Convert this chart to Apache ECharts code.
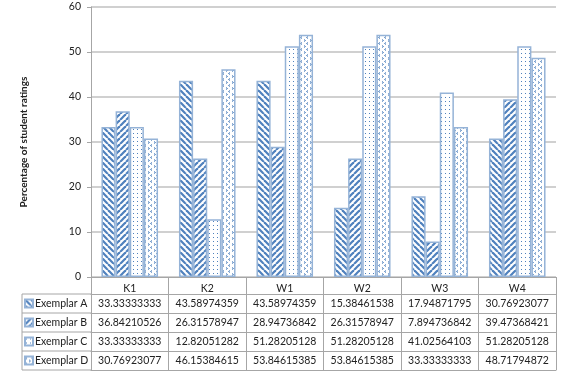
<!DOCTYPE html>
<html><head><meta charset="utf-8">
<script src="https://cdn.jsdelivr.net/npm/echarts@6/dist/echarts.min.js"></script>
<style>html,body{margin:0;padding:0;background:#fff}#c{width:561px;height:374px}</style>
</head><body><div id="c"></div>
<script>
const categories = ['K1','K2','W1','W2','W3','W4'];
const seriesNames = ['Exemplar A','Exemplar B','Exemplar C','Exemplar D'];
const exemplarA = [33.33333333, 43.58974359, 43.58974359, 15.38461538, 17.94871795, 30.76923077];
const exemplarB = [36.84210526, 26.31578947, 28.94736842, 26.31578947, 7.894736842, 39.47368421];
const exemplarC = [33.33333333, 12.82051282, 51.28205128, 51.28205128, 41.02564103, 51.28205128];
const exemplarD = [30.76923077, 46.15384615, 53.84615385, 53.84615385, 33.33333333, 48.71794872];
const yTicks = [0,10,20,30,40,50,60];

const allData = [exemplarA, exemplarB, exemplarC, exemplarD];
const BLUE = '#4f81bd';
const EDGE = '#95b3d7';
const FONT = 'Lato';

function makePattern(kind){
  const c = document.createElement('canvas');
  let w=6,h=6;
  if(kind==='C'){w=4;h=4;}
  c.width=w;c.height=h;
  const g=c.getContext('2d');
  g.fillStyle='#fff';g.fillRect(0,0,w,h);
  g.strokeStyle=BLUE;g.fillStyle=BLUE;
  if(kind==='A'){
    g.lineWidth=2.2;
    for(let o=-w;o<=w;o+=w){g.beginPath();g.moveTo(o,0);g.lineTo(o+w,h);g.stroke();}
  } else if(kind==='B'){
    g.lineWidth=2.2;
    for(let o=-w;o<=w;o+=w){g.beginPath();g.moveTo(o,h);g.lineTo(o+w,0);g.stroke();}
  } else if(kind==='C'){
    g.fillRect(1,1,1,1);
  } else {
    g.lineWidth=1;
    g.beginPath();g.moveTo(2,0.5);g.lineTo(0.5,1.5);g.lineTo(2,2.5);g.stroke();
    g.beginPath();g.moveTo(4,3.5);g.lineTo(5.5,4.5);g.lineTo(4,5.5);g.stroke();
  }
  return {image:c, repeat:'repeat'};
}
const patterns = ['A','B','C','D'].map(makePattern);

const fmt = v => String(v);
const rowAxes = allData.map((arr,i)=>({
  type:'category', data:categories, position:'bottom', offset:17+19*i,
  axisLine:{show:true,lineStyle:{color:'#a6a6a6',width:1}},
  axisTick:{show:false},
  axisLabel:{interval:0,margin:4,fontFamily:FONT,fontSize:10.5,color:'#222',formatter:(v,idx)=>fmt(arr[idx])}
}));
rowAxes.push({
  type:'category', data:categories, position:'bottom', offset:93,
  axisLine:{show:true,lineStyle:{color:'#a6a6a6',width:1}},
  axisTick:{show:false}, axisLabel:{show:false}
});

const chart = echarts.init(document.getElementById('c'),null,{renderer:'canvas'});
chart.setOption({
  animation:false,
  backgroundColor:'#fff',
  grid:{left:91,right:5,top:7,bottom:97,containLabel:false},
  legend:{
    orient:'vertical', left:24, top:296.5, padding:0, itemWidth:8, itemHeight:8, itemGap:5,
    icon:'rect', data:seriesNames,
    textStyle:{fontFamily:FONT,fontSize:10.5,color:'#222',lineHeight:14,padding:[0,0,0,-3]},
    selectedMode:false
  },
  xAxis:[{
    type:'category', data:categories, position:'bottom',
    axisLine:{show:true,lineStyle:{color:'#a6a6a6',width:1}},
    axisTick:{show:true,length:93,lineStyle:{color:'#a6a6a6',width:1}},
    axisLabel:{interval:0,margin:6,fontFamily:FONT,fontSize:10.5,color:'#222'}
  }].concat(rowAxes),
  yAxis:{
    type:'value', min:0, max:60, interval:10,
    name:'Percentage of student ratings', nameLocation:'middle', nameGap:62,
    nameTextStyle:{fontFamily:FONT,fontSize:10,fontWeight:'bold',color:'#222'},
    axisLine:{show:true,lineStyle:{color:'#a6a6a6'}},
    axisTick:{show:true,length:4,lineStyle:{color:'#a6a6a6'}},
    axisLabel:{margin:10,fontFamily:FONT,fontSize:10.5,color:'#222',
      formatter:v=>yTicks.includes(v)?String(v):''},
    splitLine:{show:true,lineStyle:{color:'#c0c0c0',width:1.5}}
  },
  graphic:[
    {type:'polyline',shape:{points:[[91,294],[22,294],[22,370],[91,370]]},style:{stroke:'#a6a6a6',fill:null,lineWidth:1}},
    {type:'line',shape:{x1:22,y1:313,x2:91,y2:313},style:{stroke:'#a6a6a6',lineWidth:1}},
    {type:'line',shape:{x1:22,y1:332,x2:91,y2:332},style:{stroke:'#a6a6a6',lineWidth:1}},
    {type:'line',shape:{x1:22,y1:351,x2:91,y2:351},style:{stroke:'#a6a6a6',lineWidth:1}}
  ],
  series: allData.map((arr,i)=>({
    type:'bar', name:seriesNames[i], data:arr,
    barGap:'0%', barCategoryGap:'27%',
    itemStyle:{color:patterns[i], borderColor:EDGE, borderWidth:1.5}
  }))
});
</script></body></html>
